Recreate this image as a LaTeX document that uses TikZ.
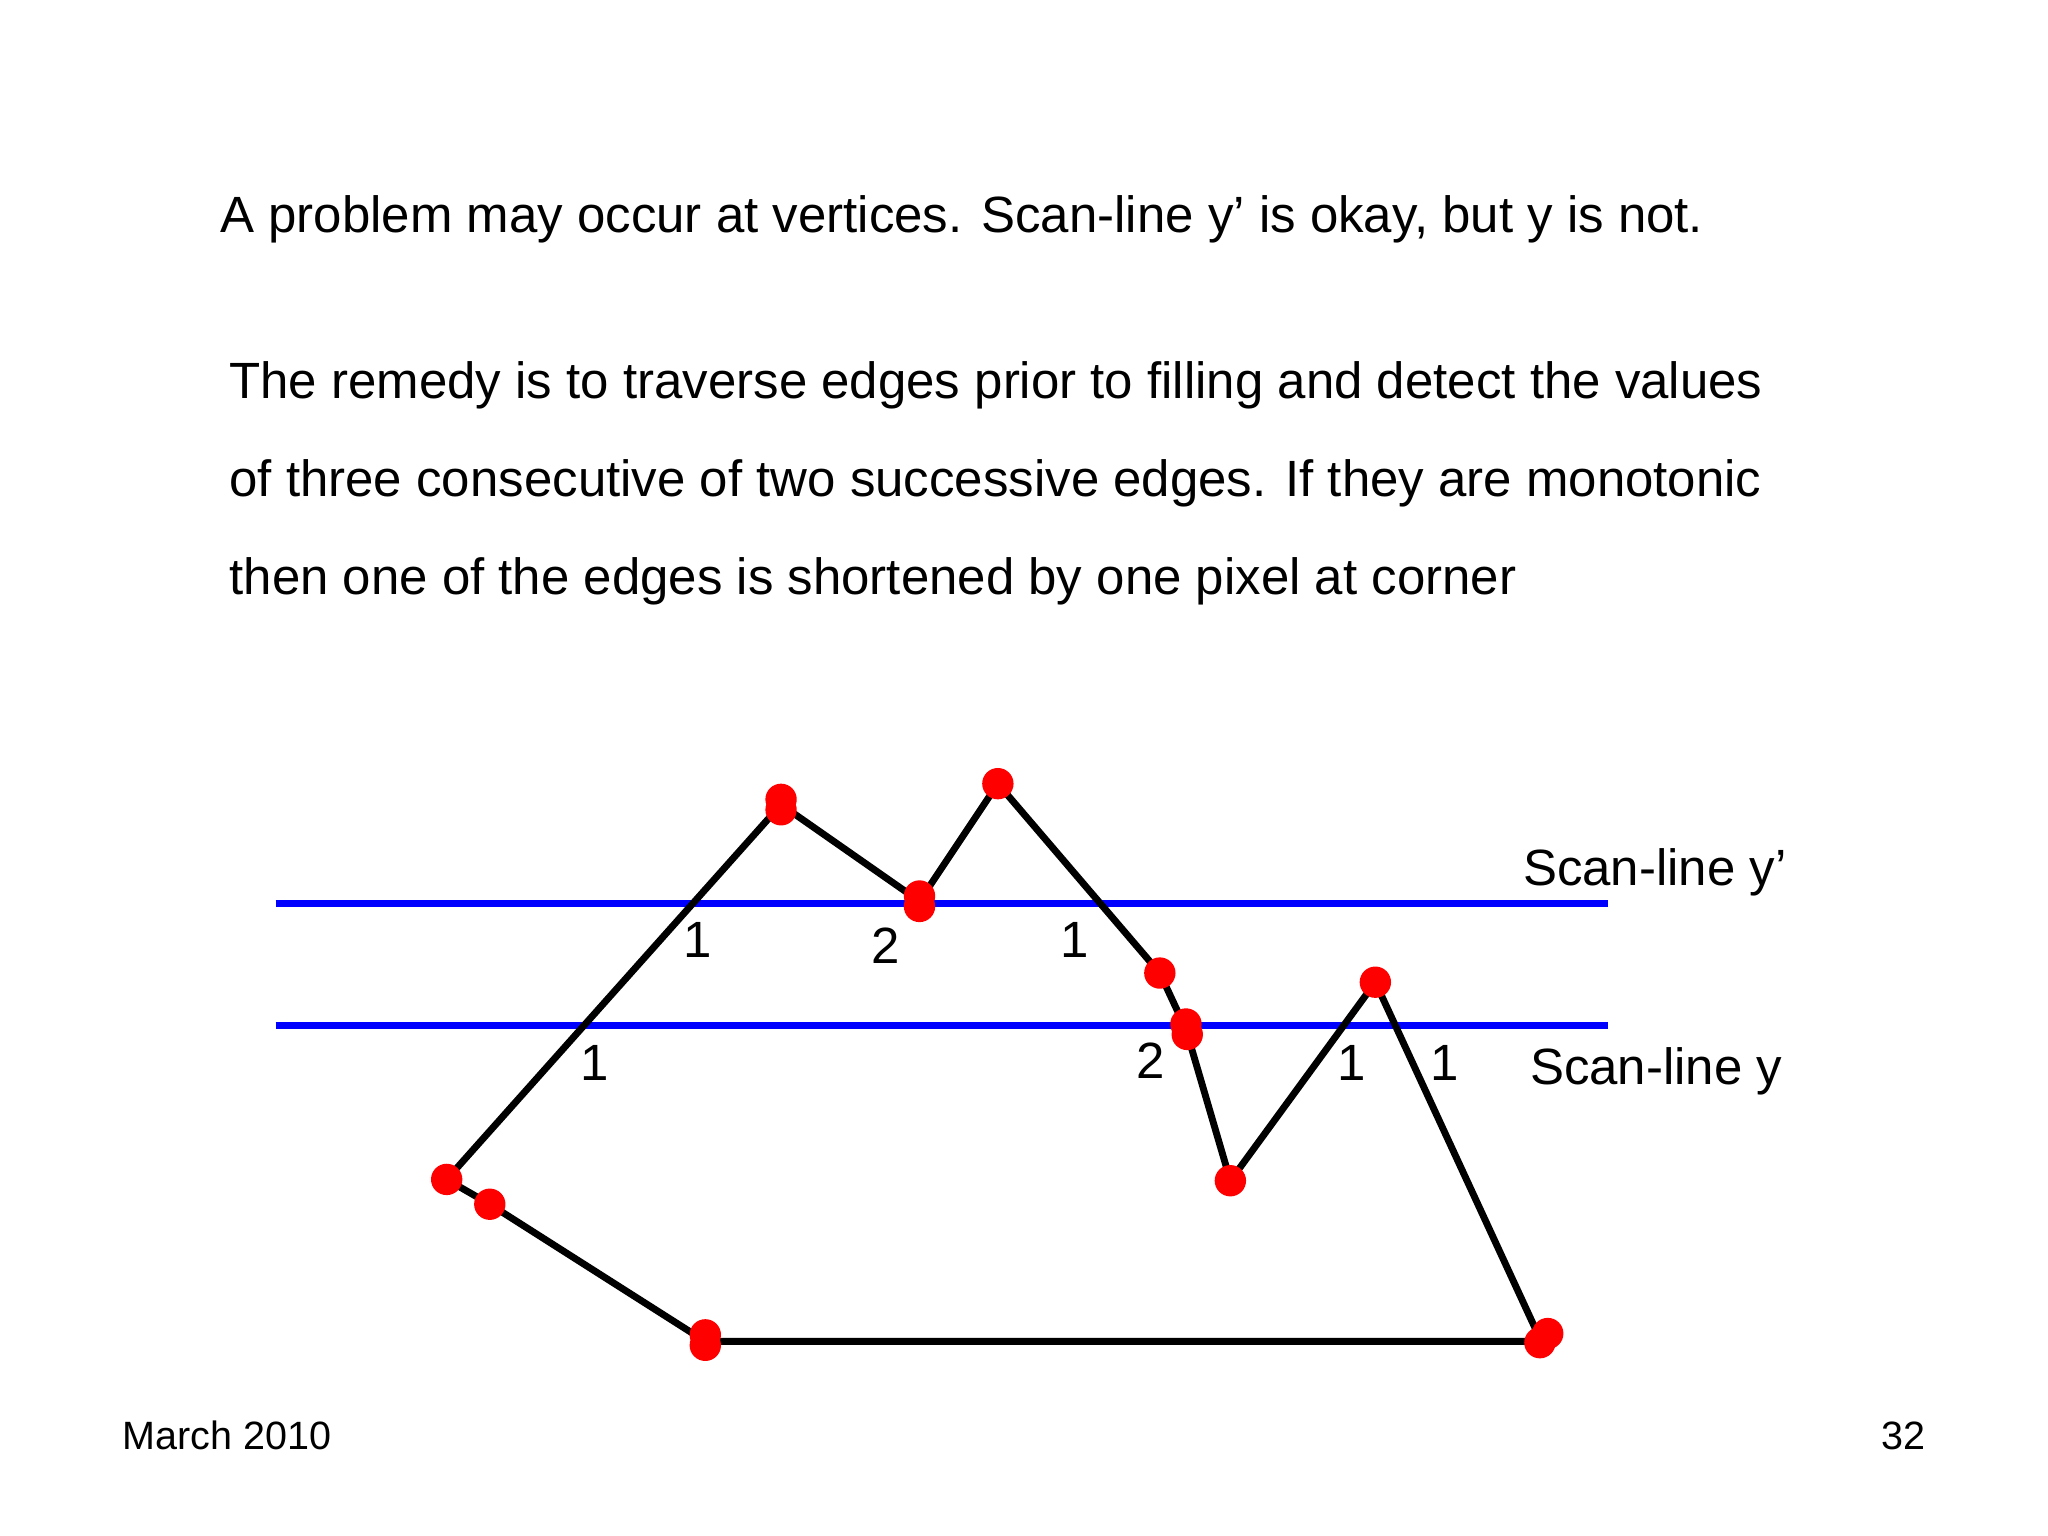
\documentclass[tikz,border=0pt]{standalone}
\usepackage{fontspec}
\setmainfont{Liberation Sans}
\begin{document}
\begin{tikzpicture}[x=0.01cm,y=-0.01cm,
  dot/.style={circle,fill=red,inner sep=0pt,minimum size=0.24cm},
  txt/.style={anchor=west,inner sep=0pt,font=\fontsize{11.1}{13}\selectfont},
  lab/.style={inner sep=0pt,font=\fontsize{11.1}{13}\selectfont},
  scan/.style={blue,line width=1.5pt},
  edge/.style={black,line width=1.5pt}]
\useasboundingbox (0,0) rectangle (1568,1176);
\node[txt] (t1) at (168,168) {A problem may occur at vertices. Scan-line y’ is okay, but y is not.};
\node[txt] (t2) at (175,295) {The remedy is to traverse edges prior to filling and detect the values};
\node[txt] (t3) at (175,370) {of three consecutive of two successive edges. If they are monotonic};
\node[txt] (t4) at (175,445) {then one of the edges is shortened by one pixel at corner};
\coordinate (a1) at (211,692); \coordinate (a2) at (1231,692);
\coordinate (b1) at (211,785); \coordinate (b2) at (1231,785);
\draw[scan] (a1) -- (a2);
\draw[scan] (b1) -- (b2);
\coordinate (p1) at (342,903); \coordinate (p2) at (375,922);
\coordinate (p3) at (540,1027); \coordinate (p4) at (1180,1027);
\coordinate (p5) at (1053,752); \coordinate (p6) at (942,904);
\coordinate (p7) at (908,788); \coordinate (p8) at (888,745);
\coordinate (p9) at (764,600); \coordinate (p10) at (704,690);
\coordinate (p11) at (598,616);
\draw[edge,line join=round] (p1) -- (p11) -- (p10) -- (p9) -- (p8) -- (p7) -- (p6) -- (p5) -- (p4) -- (p3) -- (p2) -- cycle;
\foreach \p in {p1,p2,p5,p6,p8,p9} \node[dot] at (\p) {};
\node[dot] (d11a) at (598,612) {}; \node[dot] (d11b) at (598,620) {};
\node[dot] (d10a) at (704,686) {}; \node[dot] (d10b) at (704,694) {};
\node[dot] (d7a) at (908,784) {}; \node[dot] (d7b) at (909,792) {};
\node[dot] (d3a) at (540,1022) {}; \node[dot] (d3b) at (540,1030) {};
\node[dot] (d4a) at (1185,1021) {}; \node[dot] (d4b) at (1179,1028) {};
\node[lab] (l1) at (534,720) {1};
\node[lab] (l2) at (678,724) {2};
\node[lab] (l3) at (823,720) {1};
\node[lab] (l4) at (455,814) {1};
\node[lab] (l5) at (881,812) {2};
\node[lab] (l6) at (1035,814) {1};
\node[lab] (l7) at (1106,814) {1};
\node[lab] (sy1) at (1267,668) {Scan-line y’};
\node[lab] (sy2) at (1268,820) {Scan-line y};
\node[lab,font=\fontsize{8.6}{10}\selectfont] (f1) at (174,1099) {March 2010};
\node[lab,font=\fontsize{8.6}{10}\selectfont] (f2) at (1457,1099) {32};
\end{tikzpicture}
\end{document}
